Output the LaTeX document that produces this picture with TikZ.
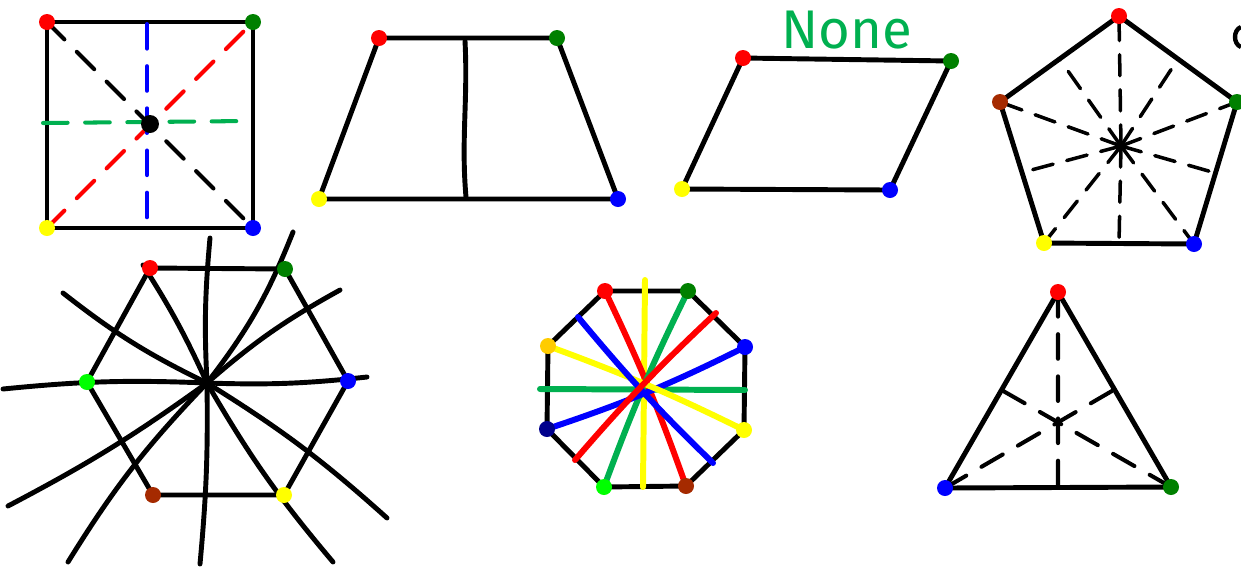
\documentclass[tikz,border=0pt]{standalone}
\usepackage{fontspec}
\newfontfamily\notefont{Fira Sans}
\usetikzlibrary{calc,positioning}
\definecolor{vred}{RGB}{255,0,0}
\definecolor{vgreen}{RGB}{0,128,0}
\definecolor{vblue}{RGB}{0,0,255}
\definecolor{vyellow}{RGB}{255,255,0}
\definecolor{vbrown}{RGB}{165,42,0}
\definecolor{vlime}{RGB}{0,255,0}
\definecolor{vnavy}{RGB}{0,0,140}
\definecolor{vgold}{RGB}{255,204,0}
\definecolor{nonegreen}{RGB}{0,176,80}
\pgfdeclarelayer{bg}
\pgfsetlayers{bg,main}

\begin{document}
\begin{tikzpicture}[x=0.02cm,y=-0.02cm,
    vdot/.style={circle,fill=#1,inner sep=0pt,minimum size=0.32cm},
    side/.style={line width=2.8pt,line join=round},
    axis/.style={line width=2.3pt,dash pattern=on 14pt off 10pt,line cap=round},
    ray/.style={line width=2.8pt,line cap=round},
    spoke/.style={line width=3.4pt,line cap=round}]
\useasboundingbox (0,0) rectangle (1241,566);

% square
\node[vdot=vred] (sqA) at (47,22) {};
\node[vdot=vgreen] (sqB) at (253,22) {};
\node[vdot=vyellow] (sqC) at (47,228) {};
\node[vdot=vblue] (sqD) at (253,228) {};
\node[vdot=black,minimum size=0.36cm] (sqO) at (150,124) {};
\coordinate (sqT) at (147,24);
\coordinate (sqU) at (147,226);
\coordinate (sqL) at (43,123);
\coordinate (sqR) at (248,121);

% trapezoid
\node[vdot=vred] (tzA) at (379,38) {};
\node[vdot=vgreen] (tzB) at (557,38) {};
\node[vdot=vyellow] (tzC) at (319,199) {};
\node[vdot=vblue] (tzD) at (618,199) {};
\coordinate (tzT) at (465,41);
\coordinate (tzU) at (466,197);

% parallelogram
\node[vdot=vred] (pgA) at (743,58) {};
\node[vdot=vgreen] (pgB) at (951,61) {};
\node[vdot=vyellow] (pgC) at (682,189) {};
\node[vdot=vblue] (pgD) at (890,190) {};
\node[text=nonegreen,font=\notefont\fontsize{31}{31}\selectfont] (lblNone) at (847,30) {None};

% pentagon
\node[vdot=vred] (pnA) at (1119,16) {};
\node[vdot=vgreen] (pnB) at (1237,102) {};
\node[vdot=vblue] (pnC) at (1194,244) {};
\node[vdot=vyellow] (pnD) at (1044,243) {};
\node[vdot=vbrown] (pnE) at (1000,102) {};
\coordinate (pnO) at (1121,146);

% hexagon
\node[vdot=vred] (hxA) at (150,268) {};
\node[vdot=vgreen] (hxB) at (285,269) {};
\node[vdot=vblue] (hxC) at (348,381) {};
\node[vdot=vyellow] (hxD) at (284,495) {};
\node[vdot=vbrown] (hxE) at (153,495) {};
\node[vdot=vlime] (hxF) at (87,382) {};
\coordinate (hxO) at (207,383);

% octagon
\node[vdot=vred] (ocA) at (605,291) {};
\node[vdot=vgreen] (ocB) at (688,291) {};
\node[vdot=vblue] (ocC) at (745,347) {};
\node[vdot=vyellow] (ocD) at (744,430) {};
\node[vdot=vbrown] (ocE) at (686,486) {};
\node[vdot=vlime] (ocF) at (604,487) {};
\node[vdot=vnavy] (ocG) at (547,429) {};
\node[vdot=vgold] (ocH) at (548,346) {};
\coordinate (ocO) at (645,389);

% triangle
\node[vdot=vred] (tgA) at (1058,292) {};
\node[vdot=vgreen] (tgB) at (1171,487) {};
\node[vdot=vblue] (tgC) at (945,488) {};

\begin{pgfonlayer}{bg}
\draw[side] (sqA.center) -- (sqB.center) -- (sqD.center) -- (sqC.center) -- cycle;
\draw[axis] (sqA.center) -- (sqD.center);
\draw[axis,draw=vred] (sqC.center) -- (sqB.center);
\draw[axis,draw=vblue] (sqT) -- (sqU);
\draw[axis,draw=nonegreen] (sqL) -- (sqR);

\draw[side] (tzA.center) -- (tzB.center) -- (tzD.center) -- (tzC.center) -- cycle;
\draw[ray] (tzT) .. controls (468,100) and (461,140) .. (tzU);

\draw[side] (pgA.center) -- (pgB.center) -- (pgD.center) -- (pgC.center) -- cycle;

\draw[side] (pnA.center) -- (pnB.center) -- (pnC.center) -- (pnD.center) -- (pnE.center) -- cycle;
\foreach \p/\q in {A/B,B/C,C/D,D/E,E/A} {
  \draw[axis,line width=2pt,dash pattern=on 12pt off 8pt] (pnO) -- (pn\p.center);
  \draw[axis,line width=2pt,dash pattern=on 12pt off 8pt] (pnO) -- ($(pn\p)!0.5!(pn\q)$);
}

\draw[side] (hxA.center) -- (hxB.center) -- (hxC.center) -- (hxD.center) -- (hxE.center) -- (hxF.center) -- cycle;
\foreach \ex/\ey/\b in {210/238/4,293/232/-8,340/290/6,367/377/-4,387/518/5,333/562/-5,
                        200/564/3,68/562/-6,8/506/4,3/389/-4,63/293/6,143/265/-4}
  \draw[ray] (hxO) to[bend left=\b] (\ex,\ey);
\fill (hxO) circle (6);

\draw[side] (ocA.center) -- (ocB.center) -- (ocC.center) -- (ocD.center) -- (ocE.center) -- (ocF.center) -- (ocG.center) -- (ocH.center) -- cycle;
\draw[spoke,draw=vyellow] (645,280) -- (643,487);
\draw[spoke,draw=nonegreen] (540,389) -- (745,390);
\draw[spoke,draw=vred] (ocA.center) to[bend left=3] (ocE.center);
\draw[spoke,draw=nonegreen] (ocB.center) to[bend right=3] (ocF.center);
\draw[spoke,draw=vblue] (ocG.center) to[bend right=4] (ocC.center);
\draw[spoke,draw=vyellow] (ocH.center) to[bend left=3] (ocD.center);
\draw[spoke,draw=vblue] (578,317) to[bend right=3] (713,463);
\draw[spoke,draw=vred] (716,313) to[bend right=3] (575,460);

\draw[side] (tgA.center) -- (tgB.center) -- (tgC.center) -- cycle;
\draw[axis] (tgA.center) -- ($(tgB)!0.5!(tgC)$);
\draw[axis] (tgB.center) -- ($(tgA)!0.5!(tgC)$);
\draw[axis] (tgC.center) -- ($(tgA)!0.5!(tgB)$);
\end{pgfonlayer}

% cut-off letter at the right edge
\draw[line width=2.5pt] (1241,27) .. controls (1233,30) and (1233,44) .. (1241,47);
\end{tikzpicture}
\end{document}
